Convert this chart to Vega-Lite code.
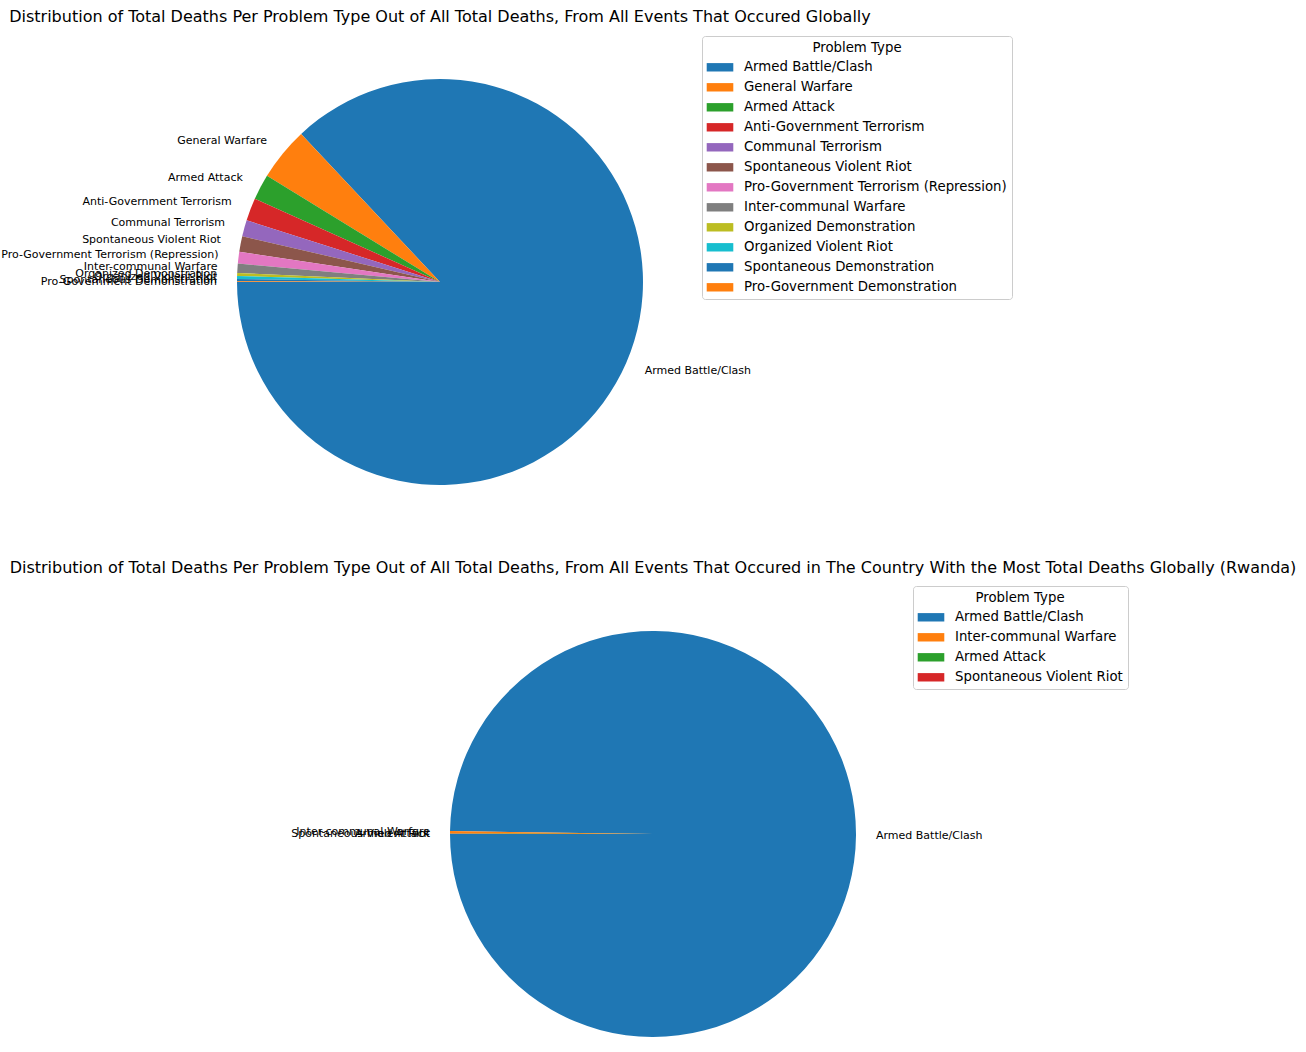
{
  "$schema": "https://vega.github.io/schema/vega-lite/v6.json",
  "background": "white",
  "padding": {"top": 8, "left": 0, "right": 0, "bottom": 0},
  "spacing": 45,
  "config": {
    "view": {"stroke": null},
    "font": "DejaVu Sans",
    "title": {"fontSize": 16, "fontWeight": "normal", "color": "#000000", "anchor": "middle", "font": "DejaVu Sans"},
    "legend": {
      "orient": "none",
      "direction": "vertical",
      "symbolType": "M-1.33,-0.42H1.33V0.42H-1.33Z",
      "symbolSize": 400,
      "symbolStrokeWidth": 0,
      "symbolOpacity": 1,
      "symbolOffset": 3,
      "labelFontSize": 13.3,
      "labelFont": "DejaVu Sans",
      "labelColor": "#000000",
      "labelOffset": 14,
      "labelLimit": 500,
      "titleFontSize": 13.3,
      "titleFont": "DejaVu Sans",
      "titleFontWeight": "normal",
      "titleColor": "#000000",
      "titleAnchor": "middle",
      "titlePadding": 3,
      "rowPadding": 3,
      "padding": 5,
      "strokeColor": "#cccccc",
      "fillColor": "white",
      "cornerRadius": 3
    }
  },
  "resolve": {"scale": {"color": "independent", "theta": "independent"}, "legend": {"color": "independent"}},
  "vconcat": [
    {
      "title": {"text": "Distribution of Total Deaths Per Problem Type Out of All Total Deaths, From All Events That Occured Globally", "offset": 11},
      "width": 880,
      "height": 464,
      "data": {"values": [
        {"rank": 1, "problem_type": "Armed Battle/Clash", "deaths": 870100},
        {"rank": 2, "problem_type": "General Warfare", "deaths": 42560},
        {"rank": 3, "problem_type": "Armed Attack", "deaths": 20390},
        {"rank": 4, "problem_type": "Anti-Government Terrorism", "deaths": 18030},
        {"rank": 5, "problem_type": "Communal Terrorism", "deaths": 12970},
        {"rank": 6, "problem_type": "Spontaneous Violent Riot", "deaths": 12440},
        {"rank": 7, "problem_type": "Pro-Government Terrorism (Repression)", "deaths": 9280},
        {"rank": 8, "problem_type": "Inter-communal Warfare", "deaths": 7330},
        {"rank": 9, "problem_type": "Organized Demonstration", "deaths": 2400},
        {"rank": 10, "problem_type": "Organized Violent Riot", "deaths": 2350},
        {"rank": 11, "problem_type": "Spontaneous Demonstration", "deaths": 1830},
        {"rank": 12, "problem_type": "Pro-Government Demonstration", "deaths": 560}
      ]},
      "encoding": {
        "theta": {"field": "deaths", "type": "quantitative", "stack": "normalize", "scale": {"range": [4.71238898, -1.57079633]}},
        "order": {"field": "rank", "type": "quantitative"}
      },
      "layer": [
        {
          "mark": {"type": "arc", "outerRadius": 203},
          "encoding": {
            "color": {
              "field": "problem_type", "type": "nominal",
              "scale": {
                "domain": ["Armed Battle/Clash", "General Warfare", "Armed Attack", "Anti-Government Terrorism", "Communal Terrorism", "Spontaneous Violent Riot", "Pro-Government Terrorism (Repression)", "Inter-communal Warfare", "Organized Demonstration", "Organized Violent Riot", "Spontaneous Demonstration", "Pro-Government Demonstration"],
                "range": ["#1f77b4", "#ff7f0e", "#2ca02c", "#d62728", "#9467bd", "#8c564b", "#e377c2", "#7f7f7f", "#bcbd22", "#17becf", "#1f77b4", "#ff7f0e"]
              },
              "legend": {"title": "Problem Type", "legendX": 702, "legendY": -14}
            }
          }
        },
        {
          "mark": {"type": "text", "radius": 223, "fontSize": 11, "font": "DejaVu Sans", "color": "#000000", "baseline": "middle",
                   "align": {"expr": "datum.problem_type === 'Armed Battle/Clash' ? 'left' : 'right'"}},
          "encoding": {
            "detail": {"field": "problem_type", "type": "nominal"},
            "text": {"field": "problem_type", "type": "nominal"}
          }
        }
      ]
    },
    {
      "title": {"text": "Distribution of Total Deaths Per Problem Type Out of All Total Deaths, From All Events That Occured in The Country With the Most Total Deaths Globally (Rwanda)", "offset": 10},
      "width": 1306,
      "height": 436,
      "data": {"values": [
        {"rank": 1, "problem_type": "Armed Battle/Clash", "deaths": 99770},
        {"rank": 2, "problem_type": "Inter-communal Warfare", "deaths": 190},
        {"rank": 3, "problem_type": "Armed Attack", "deaths": 30},
        {"rank": 4, "problem_type": "Spontaneous Violent Riot", "deaths": 10}
      ]},
      "encoding": {
        "theta": {"field": "deaths", "type": "quantitative", "stack": "normalize", "scale": {"range": [4.71238898, -1.57079633]}},
        "order": {"field": "rank", "type": "quantitative"}
      },
      "layer": [
        {
          "mark": {"type": "arc", "outerRadius": 203},
          "encoding": {
            "color": {
              "field": "problem_type", "type": "nominal",
              "scale": {
                "domain": ["Armed Battle/Clash", "Inter-communal Warfare", "Armed Attack", "Spontaneous Violent Riot"],
                "range": ["#1f77b4", "#ff7f0e", "#2ca02c", "#d62728"]
              },
              "legend": {"title": "Problem Type", "legendX": 913, "legendY": -30}
            }
          }
        },
        {
          "mark": {"type": "text", "radius": 223, "fontSize": 11, "font": "DejaVu Sans", "color": "#000000", "baseline": "middle",
                   "align": {"expr": "datum.problem_type === 'Armed Battle/Clash' ? 'left' : 'right'"}},
          "encoding": {
            "detail": {"field": "problem_type", "type": "nominal"},
            "text": {"field": "problem_type", "type": "nominal"}
          }
        }
      ]
    }
  ]
}
